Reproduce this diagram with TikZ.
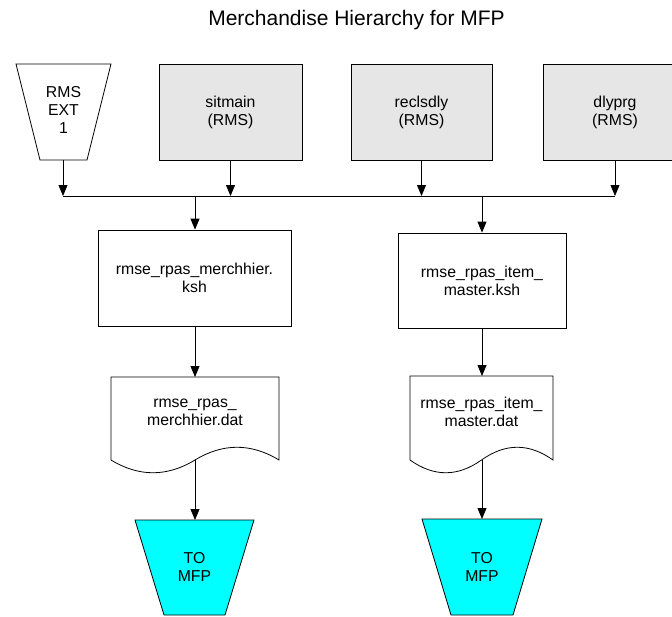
\documentclass[tikz,border=0pt]{standalone}
\usepackage{fontspec}
\setmainfont{Liberation Sans}
\usetikzlibrary{arrows.meta}
\definecolor{boxgrey}{HTML}{E6E6E6}
\definecolor{toCyan}{HTML}{00FFFF}
\begin{document}
\begin{tikzpicture}[x=1pt,y=-1pt,
  line width=0.8pt,
  lbl/.style={font=\fontsize{15.8}{18}\selectfont, align=center, inner sep=0pt},
  greybox/.style={draw, fill=boxgrey, minimum width=143pt, minimum height=96pt, lbl},
  whitebox/.style={draw, fill=white, minimum height=96pt, lbl},
  arr/.style={-{Triangle[length=11pt,width=9pt]}},
  shp/.style={draw, line join=miter}]
\useasboundingbox (0,0) rectangle (672,616);

% title
\node[font=\fontsize{21}{25}\selectfont, anchor=base, inner sep=0pt] (title) at (356.5,25) {Merchandise Hierarchy for MFP};

% sources
\draw[shp, fill=white] (16,64) -- (111,64) -- (87,160) -- (40,160) -- cycle;
\node[lbl] (ext) at (63.5,110) {RMS\\EXT\\1};
\coordinate (extB) at (63,160);

\node[greybox] (sitmain) at (230.5,112) {sitmain\\(RMS)};
\node[greybox, minimum width=141pt] (reclsdly) at (421.5,112) {reclsdly\\(RMS)};
\node[greybox] (dlyprg) at (615,112) {dlyprg\\(RMS)};

% bus
\coordinate (busL) at (63,196);
\coordinate (busR) at (615,196);
\draw (busL) -- (busR);
\draw[arr] (extB) -- (busL);
\draw[arr] (sitmain.south) -- (sitmain.south |- busL);
\draw[arr] (reclsdly.south) -- (reclsdly.south |- busL);
\draw[arr] (dlyprg.south) -- (busR);

% ksh scripts
\node[whitebox, minimum width=193pt] (kshA) at (194.5,278) {rmse\_rpas\_merchhier.\\ksh};
\node[whitebox, minimum width=168pt, minimum height=95pt] (kshB) at (482,280.5) {rmse\_rpas\_item\_\\master.ksh};
\coordinate (busA) at (195,196);
\coordinate (busB) at (482,196);
\draw[arr] (busA) -- (kshA.north -| busA);
\draw[arr] (busB) -- (kshB.north -| busB);

% data files
\draw[shp, fill=white] (111,377) -- (279,377) -- (279,460)
  .. controls (251,443) and (223,443) .. (195,460)
  .. controls (167,477) and (139,477) .. (111,460) -- cycle;
\coordinate (datAtop) at (195,377);
\coordinate (datAbot) at (195,460);
\node[lbl] (datA) at (195,412) {rmse\_rpas\_\\merchhier.dat};

\draw[shp, fill=white] (410,376) -- (553,376) -- (553,460)
  .. controls (529,443) and (505.5,443) .. (481.5,460)
  .. controls (457.5,477) and (434,477) .. (410,460) -- cycle;
\coordinate (datBtop) at (482,376);
\coordinate (datBbot) at (482,460);
\node[lbl] (datB) at (481.5,412) {rmse\_rpas\_item\_\\master.dat};

\draw[arr] (kshA.south -| datAtop) -- (datAtop);
\draw[arr] (kshB.south -| datBtop) -- (datBtop);

% outputs
\draw[shp, fill=toCyan] (135,520) -- (254,520) -- (225,615) -- (164,615) -- cycle;
\node[lbl] (mfpA) at (194.5,567) {TO\\MFP};
\coordinate (mfpAtop) at (195,520);
\draw[shp, fill=toCyan] (422,519) -- (542,519) -- (513,615) -- (451,615) -- cycle;
\node[lbl] (mfpB) at (482,567) {TO\\MFP};
\coordinate (mfpBtop) at (482,519);

\draw[arr] (datAbot) -- (mfpAtop);
\draw[arr] (datBbot) -- (mfpBtop);
\end{tikzpicture}
\end{document}
